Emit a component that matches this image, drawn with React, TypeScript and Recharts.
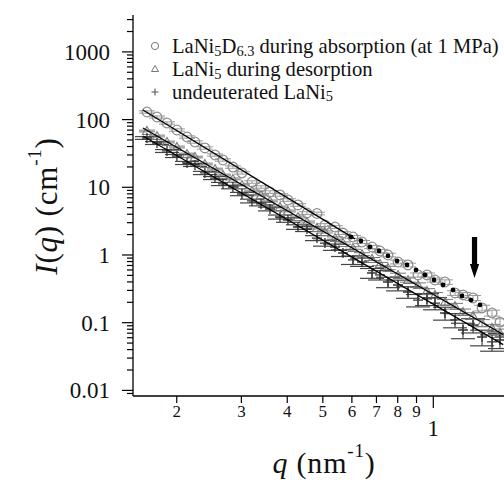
import React from "react";
import { ComposedChart, Scatter, XAxis, YAxis, ErrorBar, ReferenceDot } from "recharts";

// q grid (nm^-1) shared by the three data sets
const qValues = [
  0.1659, 0.1767, 0.1881, 0.2002, 0.2133, 0.2242, 0.2386, 0.2542, 0.2673, 0.2845,
  0.3011, 0.3206, 0.3393, 0.3589, 0.3822, 0.4018, 0.4278, 0.4527, 0.482, 0.5068,
  0.5397, 0.5675, 0.6042, 0.6393, 0.6808, 0.7157, 0.7524, 0.8014, 0.8533, 0.9085,
  0.9612, 1.0107, 1.076, 1.146, 1.2047, 1.283, 1.3577, 1.4454, 1.5195,
];

// LaNi5D6.3 during absorption
const absorbI = [
  129.5, 109.3, 89.1, 70.2, 55.3, 46.7, 38.1, 30.0, 25.3, 19.9,
  16.3, 11.97, 10.1, 8.52, 7.7, 6.49, 5.48, 4.17, 4.1, 2.77,
  2.59, 2.11, 1.845, 1.556, 1.313, 1.146, 1.0, 0.788, 0.712, 0.507,
  0.507, 0.427, 0.399, 0.275, 0.257, 0.232, 0.165, 0.139, 0.102,
];
const absorbErr = [
  5, 4, 3.5, 2.8, 2.2, 1.9, 1.5, 1.2, 1.0, 0.8,
  0.65, 0.5, 0.42, 0.36, 0.33, 0.28, 0.24, 0.19, 0.19, 0.13,
  0.12, 0.1, 0.09, 0.08, 0.07, 0.065, 0.06, 0.05, 0.045, 0.035,
  0.035, 0.03, 0.03, 0.022, 0.021, 0.02, 0.016, 0.014, 0.012,
];

// LaNi5 during desorption
const desorbI = [
  67.9, 57.2, 46.7, 39.4, 31.0, 28.0, 22.1, 18.6, 15.2, 13.3,
  10.8, 8.82, 7.7, 6.28, 5.12, 4.47, 3.64, 3.07, 2.51, 2.19,
  1.78, 1.5, 1.27, 1.03, 0.873, 0.736, 0.643, 0.507, 0.427, 0.36,
  0.294, 0.257, 0.202, 0.176, 0.144, 0.126, 0.099, 0.0835, 0.0705,
];
const desorbErr = [
  2, 1.7, 1.4, 1.2, 0.9, 0.8, 0.65, 0.55, 0.45, 0.4,
  0.32, 0.27, 0.23, 0.19, 0.16, 0.14, 0.12, 0.1, 0.09, 0.08,
  0.07, 0.06, 0.055, 0.05, 0.045, 0.04, 0.038, 0.032, 0.03, 0.027,
  0.024, 0.022, 0.019, 0.017, 0.015, 0.014, 0.012, 0.011, 0.01,
];

// undeuterated LaNi5
const bareI = [
  53.5, 45.1, 34.4, 29.0, 22.9, 21.4, 16.3, 13.7, 11.2, 10.1,
  7.96, 6.28, 5.67, 4.78, 3.64, 3.29, 2.59, 2.42, 1.78, 1.5,
  1.31, 1.07, 0.844, 0.788, 0.542, 0.507, 0.399, 0.36, 0.284, 0.216,
  0.224, 0.195, 0.139, 0.11, 0.078, 0.0925, 0.0615, 0.0519, 0.0555,
];
const bareErr = [
  2.5, 2.2, 1.7, 1.5, 1.2, 1.1, 0.9, 0.7, 0.6, 0.6,
  0.45, 0.4, 0.35, 0.3, 0.25, 0.25, 0.2, 0.2, 0.15, 0.15,
  0.14, 0.12, 0.12, 0.11, 0.09, 0.08, 0.07, 0.065, 0.055, 0.045,
  0.045, 0.04, 0.03, 0.026, 0.02, 0.022, 0.016, 0.014, 0.014,
];

// power-law fits
const absorbFitQ = [0.1618, 0.6117];
const absorbFitI = [138.6, 1.729];
const desorbFitQ = [0.1618, 1.55];
const desorbFitI = [75.1, 0.067];
const bareFitQ = [0.1618, 1.55];
const bareFitI = [57.2, 0.0475];

// model curve (dotted) for the absorption data
const modelQ = [0.5966, 0.6353, 0.6722, 0.7112, 0.7524, 0.7964, 0.8478, 0.8972, 0.9492, 1.0044, 1.0627, 1.1316, 1.1973, 1.2666, 1.3406];
const modelI = [1.845, 1.61, 1.313, 1.146, 0.967, 0.815, 0.712, 0.6, 0.507, 0.427, 0.36, 0.304, 0.248, 0.216, 0.183];

const arrowQ = 1.295;
const arrowI = 0.457;

const xTicks = [0.2, 0.3, 0.4, 0.5, 0.6, 0.7, 0.8, 0.9, 1];
const xTickLabels = ["2", "3", "4", "5", "6", "7", "8", "9", "1"];
const yMajor = [0.01, 0.1, 1, 10, 100, 1000];
const yMultipliers = [2, 3, 4, 5, 6, 7, 8, 9];

const yDomain: [number, number] = [0.00826, 3508];
const xDomain: [number, number] = [0.152, 1.558];

const yMinor = [0.001, ...yMajor]
  .flatMap((d) => yMultipliers.map((m) => +(d * m).toPrecision(3)))
  .filter((v) => v > yDomain[0] && v < yDomain[1]);
const yTicks = [...yMajor, ...yMinor].sort((a, b) => a - b);

const pts = (qs: number[], is: number[], errs?: number[]) =>
  qs.map((q, i) => ({ q, I: is[i], err: errs ? errs[i] : 0 }));

const FONT = '"Liberation Serif", "Times New Roman", serif';

const OpenCircle = (p: any) => (
  <circle cx={p.cx} cy={p.cy} r={4.8} fill="none" stroke="#8f8f8f" strokeWidth={1.3} />
);
const OpenTriangle = (p: any) => (
  <path
    d={`M${p.cx},${p.cy - 4.5} L${p.cx + 4.5},${p.cy + 3.5} L${p.cx - 4.5},${p.cy + 3.5} Z`}
    fill="none"
    stroke="#7a7a7a"
    strokeWidth={1.1}
  />
);
const Plus = (p: any) => (
  <path
    d={`M${p.cx - 5},${p.cy} H${p.cx + 5} M${p.cx},${p.cy - 5} V${p.cy + 5}`}
    stroke="#333"
    strokeWidth={1.3}
  />
);
const Dot = (p: any) => <circle cx={p.cx} cy={p.cy} r={2.4} fill="#000" />;
const NoShape = () => <g />;

const Arrow = (p: any) => {
  const { cx, cy } = p;
  return (
    <path
      d={`M${cx - 2.6},${cy - 41} H${cx + 2.6} V${cy - 14} H${cx + 4.6} L${cx},${cy} L${cx - 4.6},${cy - 14} H${cx - 2.6} Z`}
      fill="#000"
    />
  );
};

const YTick = ({ x, y, payload }: any) => {
  const major = yMajor.includes(payload.value);
  return (
    <g>
      <line x1={x} x2={x - (major ? 11 : 6)} y1={y} y2={y} stroke="#000" strokeWidth={1.2} />
      {major && (
        <text x={x - 23} y={y} dy="0.35em" textAnchor="end" fontSize={23} fontFamily={FONT} fill="#111">
          {String(payload.value)}
        </text>
      )}
    </g>
  );
};

const XTick = ({ x, y, payload }: any) => {
  const idx = xTicks.indexOf(payload.value);
  const isOne = payload.value === 1;
  return (
    <g>
      <line x1={x} x2={x} y1={y} y2={y + (isOne ? 12 : 7)} stroke="#000" strokeWidth={1.2} />
      <text
        x={x}
        y={isOne ? y + 40 : y + 21}
        textAnchor="middle"
        fontSize={isOne ? 23 : 17}
        fontFamily={FONT}
        fill="#111"
      >
        {xTickLabels[idx]}
      </text>
    </g>
  );
};

const XTitle = () => (
  <text x={324} y={473} textAnchor="middle" fontSize={30} letterSpacing={0.8} fontFamily={FONT} fill="#111">
    <tspan fontStyle="italic">q</tspan>
    <tspan> (nm</tspan>
    <tspan fontSize={19} dy={-16}>-1</tspan>
    <tspan dy={16}>)</tspan>
  </text>
);

const YTitle = () => (
  <text
    x={0}
    y={0}
    transform="translate(57,206) rotate(-90)"
    textAnchor="middle"
    fontSize={31}
    letterSpacing={0.8}
    fontFamily={FONT}
    fill="#111"
  >
    <tspan fontStyle="italic">I</tspan>
    <tspan>(</tspan>
    <tspan fontStyle="italic">q</tspan>
    <tspan>) (cm</tspan>
    <tspan fontSize={19} dy={-16}>-1</tspan>
    <tspan dy={16}>)</tspan>
  </text>
);

const subStyle: React.CSSProperties = { fontSize: "0.7em", position: "relative", top: "0.18em", lineHeight: 0 };

const legendRows = [
  {
    key: "abs",
    icon: <circle cx={6} cy={6} r={3.6} fill="none" stroke="#777" strokeWidth={1} />,
    label: (
      <>
        LaNi<span style={subStyle}>5</span>D<span style={subStyle}>6.3</span> during absorption (at 1 MPa)
      </>
    ),
  },
  {
    key: "des",
    icon: <path d="M6,2.5 L9.5,8.5 L2.5,8.5 Z" fill="none" stroke="#777" strokeWidth={1} />,
    label: (
      <>
        LaNi<span style={subStyle}>5</span> during desorption
      </>
    ),
  },
  {
    key: "bare",
    icon: <path d="M2.5,6 H9.5 M6,2.5 V9.5" stroke="#555" strokeWidth={1.1} />,
    label: (
      <>
        undeuterated LaNi<span style={subStyle}>5</span>
      </>
    ),
  },
];

export default function App() {
  return (
    <div style={{ position: "absolute", left: 0, top: 0, width: 504, height: 480, background: "#fff", overflow: "hidden" }}>
      <ComposedChart width={504} height={480} margin={{ top: 15, right: 0, bottom: 0, left: 0 }}>
        <XAxis
          dataKey="q"
          type="number"
          scale="log"
          domain={xDomain}
          allowDataOverflow
          ticks={xTicks}
          interval={0}
          tick={<XTick />}
          tickLine={false}
          tickSize={0}
          tickMargin={0}
          height={84}
          axisLine={{ stroke: "#000", strokeWidth: 1.3 }}
          label={<XTitle />}
        />
        <YAxis
          dataKey="I"
          type="number"
          scale="log"
          domain={yDomain}
          allowDataOverflow
          ticks={yTicks}
          interval={0}
          tick={<YTick />}
          tickLine={false}
          tickSize={0}
          tickMargin={0}
          width={133}
          axisLine={{ stroke: "#000", strokeWidth: 1.3 }}
          label={<YTitle />}
        />

        <Scatter data={pts(qValues, absorbI, absorbErr)} shape={OpenCircle} isAnimationActive={false}>
          <ErrorBar dataKey="err" direction="y" width={8} stroke="#9a9a9a" strokeWidth={1} />
        </Scatter>
        <Scatter data={pts(qValues, desorbI, desorbErr)} shape={OpenTriangle} isAnimationActive={false}>
          <ErrorBar dataKey="err" direction="y" width={8} stroke="#777" strokeWidth={1} />
        </Scatter>
        <Scatter data={pts(qValues, bareI, bareErr)} shape={Plus} isAnimationActive={false}>
          <ErrorBar dataKey="err" direction="y" width={12} stroke="#444" strokeWidth={1.2} />
        </Scatter>

        <Scatter data={pts(absorbFitQ, absorbFitI)} shape={NoShape} line={{ stroke: "#000", strokeWidth: 1.3 }} isAnimationActive={false} />
        <Scatter data={pts(desorbFitQ, desorbFitI)} shape={NoShape} line={{ stroke: "#000", strokeWidth: 1.3 }} isAnimationActive={false} />
        <Scatter data={pts(bareFitQ, bareFitI)} shape={NoShape} line={{ stroke: "#000", strokeWidth: 1.3 }} isAnimationActive={false} />
        <Scatter data={pts(modelQ, modelI)} shape={Dot} isAnimationActive={false} />

        <ReferenceDot x={arrowQ} y={arrowI} shape={Arrow} />
      </ComposedChart>

      <div style={{ position: "absolute", left: 149, top: 35, fontFamily: FONT, fontSize: 20.6, color: "#111" }}>
        {legendRows.map((row) => (
          <div key={row.key} style={{ display: "flex", alignItems: "center", height: 22.7, whiteSpace: "nowrap" }}>
            <svg width={12} height={12} style={{ marginRight: 11 }}>
              {row.icon}
            </svg>
            <span style={{ lineHeight: "20px" }}>{row.label}</span>
          </div>
        ))}
      </div>
    </div>
  );
}
